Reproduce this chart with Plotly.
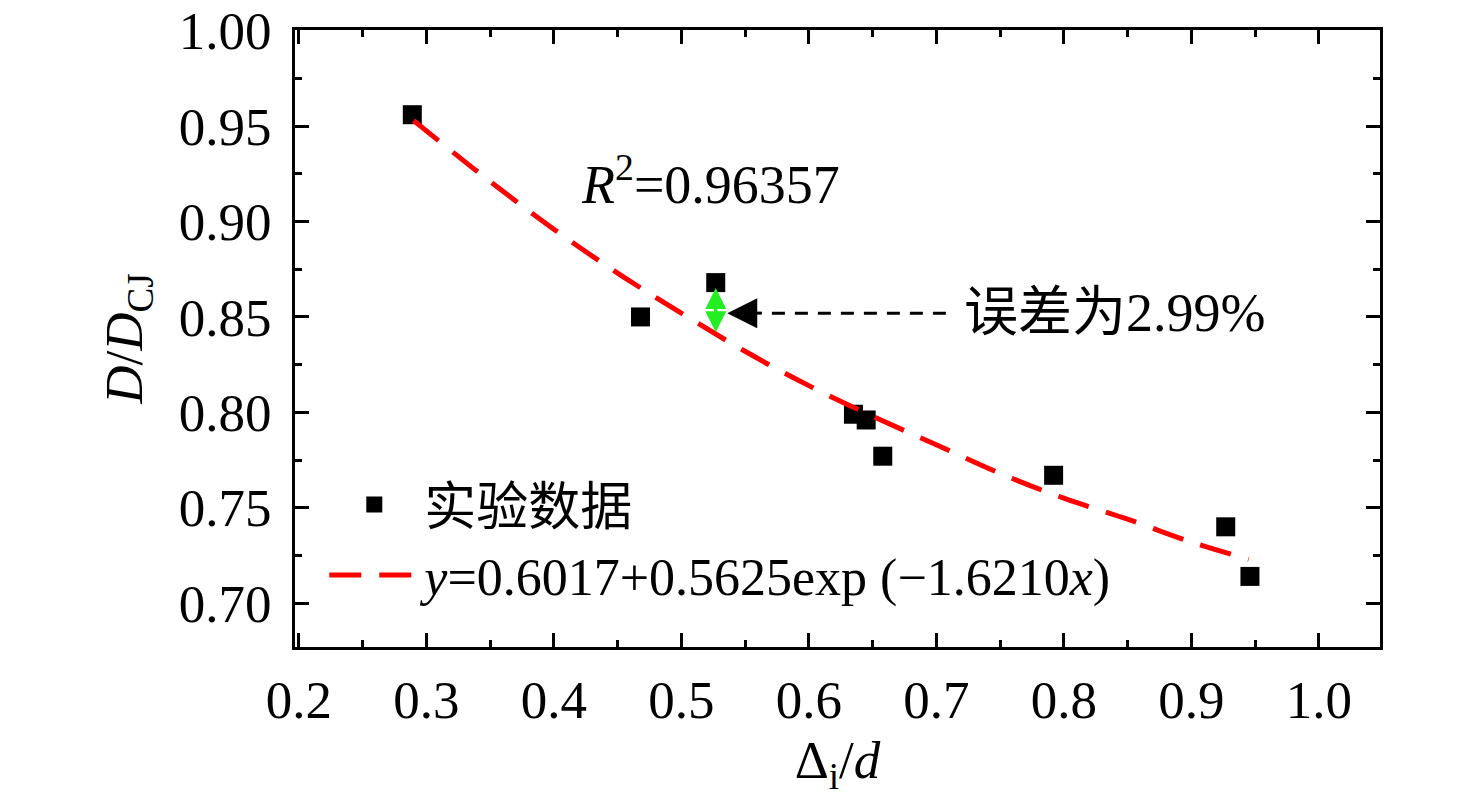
import plotly.graph_objects as go

# measured points
x_exp = [0.289, 0.468, 0.527, 0.635, 0.645, 0.658, 0.792, 0.927, 0.946]
y_exp = [0.956, 0.850, 0.868, 0.799, 0.796, 0.777, 0.767, 0.740, 0.714]

# fitted curve
x_fit = [0.29, 0.35, 0.40, 0.45, 0.50, 0.55, 0.60, 0.65, 0.70, 0.75, 0.80, 0.85, 0.90, 0.945]
y_fit = [0.953, 0.921, 0.896, 0.873, 0.852, 0.832, 0.814, 0.798, 0.783, 0.768, 0.755, 0.744, 0.732, 0.723]

x_ticks = [0.2, 0.3, 0.4, 0.5, 0.6, 0.7, 0.8, 0.9, 1.0]
y_ticks = [0.70, 0.75, 0.80, 0.85, 0.90, 0.95, 1.00]

FONT = "Liberation Serif, Times New Roman, Noto Sans CJK SC"

fig = go.Figure()
fig.add_trace(go.Scatter(x=x_exp, y=y_exp, mode="markers", name="实验数据",
                         marker=dict(symbol="square", size=19, color="black")))
fig.add_trace(go.Scatter(x=x_fit, y=y_fit, mode="lines", line_shape="spline",
                         name="<i>y</i>=0.6017+0.5625exp (−1.6210<i>x</i>)",
                         line=dict(color="#ff0000", width=5, dash="32px,18px")))

axis_common = dict(showline=True, linecolor="black", linewidth=3, mirror="allticks",
                   ticks="inside", ticklen=14, tickwidth=3, tickcolor="black",
                   showgrid=False, zeroline=False, ticklabeloverflow="allow", automargin=False,
                   tickfont=dict(family=FONT, size=53, color="black"))

fig.update_xaxes(range=[0.197, 1.048], tickvals=x_ticks, ticktext=[f"{v:.1f}" for v in x_ticks],
                 ticklabelstandoff=4,
                 minor=dict(ticks="inside", ticklen=7, tickwidth=3, tickcolor="black", dtick=0.05, tick0=0.2),
                 title=dict(text="Δ<sub>i</sub>/<i>d</i>", font=dict(family=FONT, size=53, color="black"), standoff=14),
                 **axis_common)
fig.update_yaxes(range=[0.677, 1.0004], tickvals=y_ticks, ticktext=[f"{v:.2f}" for v in y_ticks],
                 ticklabelstandoff=10,
                 minor=dict(ticks="inside", ticklen=7, tickwidth=3, tickcolor="black", dtick=0.025, tick0=0.7),
                 title=dict(text="<i>D</i>/<i>D</i><sub>CJ</sub>", font=dict(family=FONT, size=53, color="black"), standoff=20),
                 **axis_common)

# R^2 label
fig.add_annotation(x=0.42, y=0.9215, xref="x", yref="y", xanchor="left", showarrow=False,
                   text="<i>R</i><sup>2</sup>=0.96357", font=dict(family=FONT, size=54, color="black"))

# error arrow (green, double headed)
fig.add_annotation(x=0.527, y=0.842, ax=0.527, ay=0.866, xref="x", yref="y", axref="x", ayref="y",
                   text="", showarrow=True, arrowhead=2, startarrowhead=2, arrowside="end+start",
                   arrowsize=1.2, startarrowsize=1.2, arrowwidth=3.5, arrowcolor="#22ee22")

# dashed pointer + label
fig.add_shape(type="line", x0=0.553, y0=0.852, x1=0.715, y1=0.852, xref="x", yref="y",
              line=dict(color="black", width=3, dash="13px,10px"))
fig.add_annotation(x=0.536, y=0.852, ax=0.558, ay=0.852, xref="x", yref="y", axref="x", ayref="y",
                   text="", showarrow=True, arrowhead=2, arrowsize=2.0, arrowwidth=3, arrowcolor="black")
fig.add_annotation(x=0.72, y=0.852, xref="x", yref="y", xanchor="left", showarrow=False,
                   text="误差为2.99%", font=dict(family=FONT, size=54, color="black"))

fig.update_layout(width=1476, height=808, plot_bgcolor="white", paper_bgcolor="white",
                  margin=dict(l=287, r=104, t=22, b=169),
                  font=dict(family=FONT, size=52, color="black"),
                  legend=dict(x=0.027, y=0.05, xanchor="left", yanchor="bottom", bgcolor="rgba(0,0,0,0)",
                              font=dict(family=FONT, size=52, color="black"), tracegroupgap=0,
                              itemwidth=90))

fig.write_html("out.html")
